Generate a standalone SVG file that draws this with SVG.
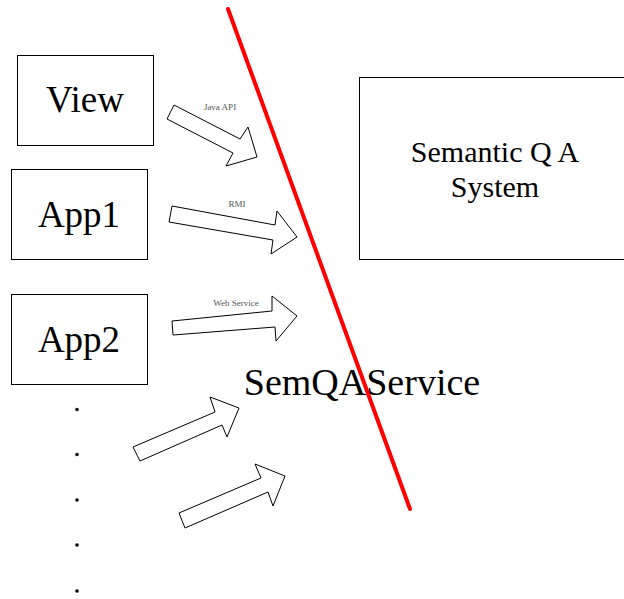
<svg xmlns="http://www.w3.org/2000/svg" width="624" height="599" viewBox="0 0 624 599">
  <style>
    .box { fill: #fff; stroke: #000; stroke-width: 1; }
    .big { fill: #000; text-anchor: middle; }
    .lbl { font-size: 9px; fill: #555; text-anchor: middle; }
    .arrow { fill: #fff; stroke: #000; stroke-width: 1; stroke-linejoin: miter; }
    .dot { fill: #000; }
  </style>
  <rect width="624" height="599" fill="#fff"/>

  <g font-family="'Liberation Serif', 'Times New Roman', 'DejaVu Serif', serif">
    <g id="view">
      <rect class="box" x="17.5" y="55.5" width="136" height="90"/>
      <text class="big" x="85" y="112" font-size="37">View</text>
    </g>
    <g id="app1">
      <rect class="box" x="11.5" y="169.5" width="136" height="90"/>
      <text class="big" x="79" y="227" font-size="37">App1</text>
    </g>
    <g id="app2">
      <rect class="box" x="11.5" y="294.5" width="136" height="90"/>
      <text class="big" x="79" y="352" font-size="37">App2</text>
    </g>
    <g id="semantic-qa-system">
      <rect class="box" x="359.5" y="77.5" width="270" height="182"/>
      <text class="big" x="495" y="162" font-size="30">Semantic Q A</text>
      <text class="big" x="495" y="197" font-size="30">System</text>
    </g>
    <g id="ellipsis">
      <circle class="dot" cx="77" cy="409.5" r="1.8"/>
      <circle class="dot" cx="77" cy="454.5" r="1.8"/>
      <circle class="dot" cx="77" cy="500" r="1.8"/>
      <circle class="dot" cx="77" cy="545" r="1.8"/>
      <circle class="dot" cx="77" cy="591" r="1.8"/>
    </g>

    <g id="connectors">
      <polygon class="arrow" points="174,105 240,139 248,127 257,157 226,166 233,153 167,119"/>
      <text class="lbl" x="220" y="110">Java API</text>
      <polygon class="arrow" points="172,206 275,225 277,211 297,237 271,254 273,240 169,222"/>
      <text class="lbl" x="237" y="207">RMI</text>
      <polygon class="arrow" points="172,321 272,311 272,296 297,316 276,341 275,327 173,335"/>
      <text class="lbl" x="236" y="306">Web Service</text>
      <polygon class="arrow" points="133,447 215,412 210,397 239,408 227,437 222,425 140,461"/>
      <polygon class="arrow" points="179,513 261,478 255,464 285,476 273,506 268,492 185,528"/>
    </g>

    <g id="semqaservice">
      <text class="big" x="362" y="395" font-size="38">SemQAService</text>
    </g>
  </g>
  <line id="boundary" x1="228" y1="9" x2="410" y2="509" stroke="#ff0000" stroke-width="4" stroke-linecap="round"/>
</svg>
